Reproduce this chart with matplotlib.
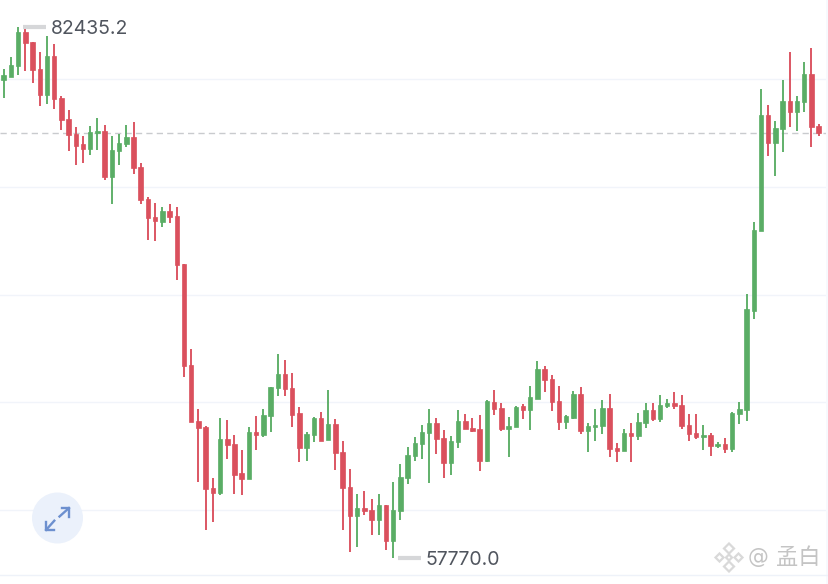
import numpy as np
import matplotlib
matplotlib.use('Agg')
import matplotlib.pyplot as plt
from matplotlib.patches import Circle, Polygon

opens = [79940, 80093, 80604, 82181, 81703, 80464, 79244, 81068, 79105, 78130,
         77434, 76970, 76752, 77481, 77602, 75467, 76660, 76984, 77295, 75903,
         74418, 73597, 73379, 73862, 73644, 71402, 66716, 64118, 63867, 61037,
         60805, 63310, 63064, 61705, 61440, 63607, 63496, 64378, 65663, 66298,
         65649, 64489, 62879, 63468, 64271, 63236, 63992, 62707, 61055, 59738,
         60081, 60002, 59524, 60220, 58564, 59970, 61487, 62522, 63078, 63561,
         64025, 63357, 62197, 63157, 64146, 63793, 63760, 62262, 65013, 64721,
         63760, 63853, 64814, 64656, 65166, 66530, 66094, 65074, 64071, 64271,
         65384, 63682, 63853, 63900, 64749, 62879, 62754, 63561, 63450, 64025,
         64628, 64238, 64828, 64953, 64874, 63960, 63575, 63403, 63468, 62972,
         63064, 62818, 64470, 64656, 69250, 72948, 78316, 77031, 77680, 78966,
         78469, 78947, 80218, 77820]
highs = [80464, 81021, 82435.2, 82320, 81703, 81267, 81982, 81624, 79198, 78548,
         77759, 77356, 77834, 78177, 77852, 77342, 77462, 77852, 78019, 76117,
         74539, 74261, 74075, 74214, 74047, 71416, 67458, 64702, 63914, 61473,
         64257, 64164, 63468, 62800, 63867, 64350, 64702, 65723, 67254, 66948,
         66373, 64767, 63607, 64331, 64535, 65570, 64224, 63190, 61918, 60730,
         60898, 60512, 60744, 60220, 61315, 62136, 62911, 63403, 63946, 64688,
         64257, 63714, 63450, 64656, 64470, 64271, 64396, 65092, 65556, 64953,
         64331, 64828, 64906, 65756, 66902, 66698, 66252, 65742, 64396, 65510,
         65709, 64053, 64674, 65120, 65370, 63097, 63746, 64025, 64489, 64967,
         64967, 65324, 65152, 65463, 65338, 64442, 64442, 63960, 63589, 63157,
         63343, 64563, 65013, 70038, 73365, 79550, 78794, 78066, 79954, 81239,
         79198, 80803, 81453, 77898]
lows = [79119, 80079, 80200, 80386, 79801, 78748, 78854, 78594, 77620, 76660,
        75996, 76089, 76460, 76692, 75314, 74200, 75996, 76859, 75606, 74200,
        72530, 72470, 73147, 73333, 70660, 66159, 64071, 61315, 59074, 59431,
        60684, 62354, 60730, 60684, 61440, 62786, 63375, 63635, 65306, 65306,
        63867, 62229, 62262, 63143, 63218, 63236, 61872, 59060, 58053, 58285,
        59784, 58842, 58842, 58146, 57770.0, 59552, 61208, 62290, 62382, 61269,
        62600, 61501, 61640, 62865, 63746, 63607, 61798, 62229, 64424, 63682,
        62475, 63839, 64224, 63714, 65138, 65477, 64610, 63700, 63760, 64224,
        63542, 62693, 63204, 63542, 62438, 62229, 62740, 62243, 63264, 63821,
        64118, 64085, 64735, 64674, 63774, 63204, 63282, 62800, 62508, 62865,
        62647, 62707, 63992, 64132, 68878, 72948, 76428, 75514, 76613, 77787,
        77574, 78483, 76831, 77355]
closes = [80172, 80650, 82181, 81657, 80418, 79244, 81068, 79058, 78084, 77388,
          76906, 76766, 77527, 77588, 75467, 76706, 77045, 77295, 75857, 74372,
          73565, 73398, 73862, 73597, 71356, 66698, 64071, 63821, 60990, 60805,
          63310, 63018, 61640, 61440, 63607, 63496, 64424, 65723, 66298, 65602,
          64424, 62879, 63528, 64285, 63218, 64006, 62661, 61009, 59738, 60081,
          59970, 59524, 60220, 58564, 60002, 61533, 62554, 63125, 63607, 64025,
          63296, 62197, 63204, 64146, 63746, 63682, 62276, 65046, 64688, 63746,
          63914, 64795, 64656, 65231, 66530, 66048, 65027, 64071, 64350, 65384,
          63668, 63900, 63960, 64749, 62818, 62754, 63561, 63450, 64085, 64628,
          64238, 64888, 64953, 64828, 63914, 63542, 63389, 63496, 62972, 63050,
          62832, 64517, 64688, 69314, 72994, 78316, 77031, 77727, 78966, 78469,
          78994, 80218, 77773, 77480]

grid_prices = [80000, 75000, 70000, 65000, 60000]

GREEN = '#5aad65'
RED = '#da505d'
GRID = '#f1f4fa'

fig = plt.figure(figsize=(8.29, 5.84), dpi=100)
ax = fig.add_axes([0, 0, 1, 1])

idx = np.arange(len(opens))
colors = [GREEN if c >= o else RED for o, c in zip(opens, closes)]
body_bottom = np.minimum(opens, closes)
body_height = np.abs(np.array(closes) - np.array(opens))

ax.vlines(idx, lows, highs, colors=colors, linewidth=1.35, zorder=3)
ax.bar(idx, body_height, bottom=body_bottom, width=0.62, color=colors,
       edgecolor=colors, linewidth=0.5, zorder=4)

ax.set_xlim(-0.513, 114.43)
ax.set_ylim(56568, 83666)

ax.set_yticks(grid_prices)
ax.set_xticks([])
ax.tick_params(length=0, labelleft=False)
ax.grid(axis='y', color=GRID, linewidth=1)
ax.set_axisbelow(True)
for spine in ax.spines.values():
    spine.set_visible(False)

# current price
ax.axhline(closes[-1], color='#c9cbce', linewidth=1, dashes=(4.5, 3), zorder=2)

# high / low labels
for values, pick in ((highs, np.argmax), (lows, np.argmin)):
    i = int(pick(values))
    ax.plot([i + 0.7, i + 3.9], [values[i], values[i]], color='#d6d7d9',
            linewidth=3, solid_capstyle='butt', zorder=5)
    ax.text(i + 4.5, values[i], f'{values[i]:.1f}', color='#50555e',
            fontsize=14, family='Inter', va='center_baseline', ha='left', zorder=6)

# overlay in pixels for the page furniture
over = fig.add_axes([0, 0, 1, 1], facecolor='none')
over.set_xlim(0, 829)
over.set_ylim(584, 0)
over.axis('off')

over.plot([0, 829], [575, 575], color='#eef2f9', linewidth=1)
over.axvspan(826, 829, color='#f7f9fd', linewidth=0)

# expand button
over.add_patch(Circle((57.5, 518), 25.5, color='#ebf1fb', linewidth=0))
blue = '#6d90cf'
over.plot([59.5, 69], [516.5, 508], color=blue, linewidth=1.7)
over.plot([61.7, 69.3, 69.3], [508, 508, 516.7], color=blue, linewidth=1.7)
over.plot([54.3, 46], [520.7, 530], color=blue, linewidth=1.7)
over.plot([46, 46, 54.3], [522.3, 530, 530], color=blue, linewidth=1.7)

# watermark
wm = '#d9d9d9'
cx, cy = 729, 557.5
for dx, dy, r in ((0, -9, 5), (0, 9, 5), (-9.5, 0, 4), (9.5, 0, 4), (0, 0, 3)):
    over.add_patch(Polygon([(cx + dx - r, cy + dy), (cx + dx, cy + dy - r),
                            (cx + dx + r, cy + dy), (cx + dx, cy + dy + r)],
                           closed=True, facecolor='white', edgecolor=wm, linewidth=1.6))
over.text(758, 557, '@', color='#c4c4c4', fontsize=15, family='DejaVu Sans',
          ha='center', va='center')
over.text(798, 558, '孟白', color='#c4c4c4', fontsize=16,
          family=['Noto Sans CJK SC', 'DejaVu Sans'], ha='center', va='center')

fig.savefig('out.png', dpi=100)
